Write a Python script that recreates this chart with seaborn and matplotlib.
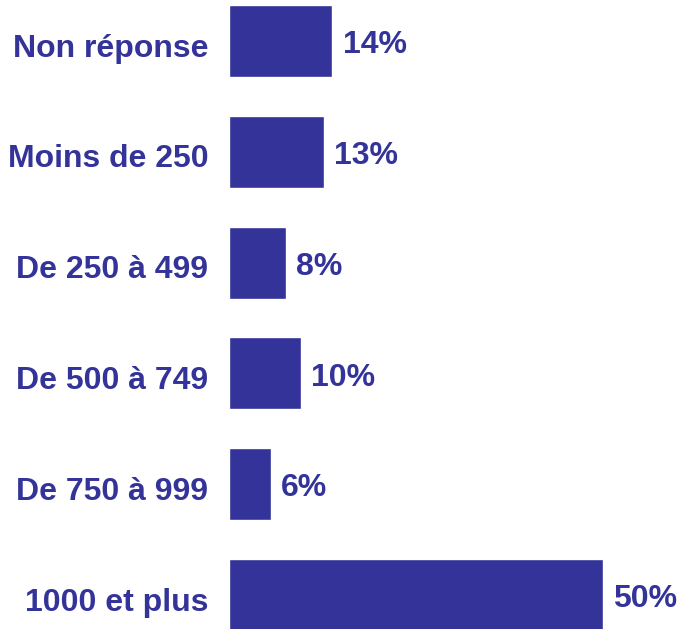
import pandas as pd
import seaborn as sns
import matplotlib.pyplot as plt
from matplotlib.transforms import ScaledTranslation

# categories top to bottom (%)
categories = ['Non réponse', 'Moins de 250', 'De 250 à 499', 'De 500 à 749',
              'De 750 à 999', '1000 et plus']
values = [13.8, 12.7, 7.6, 9.6, 5.6, 50.0]
value_labels = ['14%', '13%', '8%', '10%', '6%', '50%']

color = '#333399'

df = pd.DataFrame({'category': categories, 'value': values})

sns.set_theme(style='white')
plt.rcParams['font.family'] = ['Liberation Sans', 'DejaVu Sans']

fig = plt.figure(figsize=(6.82, 6.29), dpi=100)
ax = fig.add_axes([229 / 682, 0, 1 - 229 / 682, 1])

sns.barplot(data=df, x='value', y='category', orient='h', color=color,
            saturation=1, width=0.65, ax=ax)

texts = ax.bar_label(ax.containers[0], labels=value_labels, padding=7.5,
                     fontsize=23, fontweight='bold', color=color)
# nudge value labels a little below bar centre, like the original
for t in texts:
    t.xyann = (t.xyann[0], -3)

ax.set_xlim(0, 60.56)
ax.set_ylim(5.307, -0.370)
ax.set_xlabel('')
ax.set_ylabel('')
ax.set_xticks([])
ax.tick_params(axis='y', length=0, pad=15)
shift = ScaledTranslation(0, -3 / 72, fig.dpi_scale_trans)
for t in ax.get_yticklabels():
    t.set_fontsize(23)
    t.set_fontweight('bold')
    t.set_color(color)
    t.set_transform(t.get_transform() + shift)
sns.despine(ax=ax, left=True, bottom=True)

fig.savefig('out.png', dpi=100)
plt.close()
